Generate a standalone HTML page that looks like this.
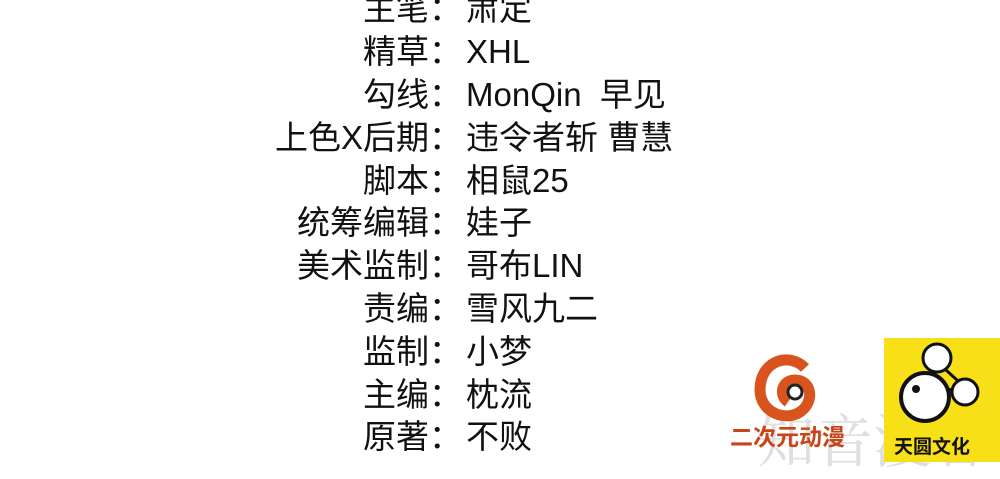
<!DOCTYPE html>
<html><head><meta charset="utf-8"><style>
body{margin:0;width:1000px;height:469px;background:#fff;overflow:hidden;position:relative;font-family:"Liberation Sans","Noto Sans CJK SC",sans-serif;}
.r{position:absolute;left:0;width:1000px;height:43px;font-size:33px;line-height:43px;color:#111;}
.l{position:absolute;right:538px;white-space:nowrap;}
.v{position:absolute;left:466px;white-space:nowrap;}
</style></head><body>
<div style="position:absolute;left:757px;top:395px;font-size:58px;color:rgba(150,150,150,0.3);white-space:nowrap;font-family:'Noto Serif CJK SC',serif;">知音漫客</div>
<div class="r" style="top:-13px"><span class="l">主笔：</span><span class="v">肃定</span></div>
<div class="r" style="top:30px"><span class="l">精草：</span><span class="v">XHL</span></div>
<div class="r" style="top:73px"><span class="l">勾线：</span><span class="v">MonQin&nbsp; 早见</span></div>
<div class="r" style="top:116px"><span class="l">上色X后期：</span><span class="v">违令者斩 曹慧</span></div>
<div class="r" style="top:159px"><span class="l">脚本：</span><span class="v">相鼠25</span></div>
<div class="r" style="top:201px"><span class="l">统筹编辑：</span><span class="v">娃子</span></div>
<div class="r" style="top:244px"><span class="l">美术监制：</span><span class="v">哥布LIN</span></div>
<div class="r" style="top:287px"><span class="l">责编：</span><span class="v">雪风九二</span></div>
<div class="r" style="top:330px"><span class="l">监制：</span><span class="v">小梦</span></div>
<div class="r" style="top:373px"><span class="l">主编：</span><span class="v">枕流</span></div>
<div class="r" style="top:415px"><span class="l">原著：</span><span class="v">不败</span></div>

<svg style="position:absolute;left:0;top:0" width="1000" height="469">
<path d="M805 368 C790 352 760 360 760 390 C760 412 785 422 800 412 C815 402 812 380 795 380 C782 380 778 395 788 402" fill="none" stroke="#d9531e" stroke-width="11"/>
<circle cx="795" cy="392" r="7" fill="#fff" stroke="#222" stroke-width="3"/>
<rect x="884" y="338" width="116" height="124" fill="#f7e018"/>
<circle cx="937" cy="358" r="14" fill="#fff" stroke="#111" stroke-width="3"/>
<circle cx="965" cy="392" r="13" fill="#fff" stroke="#111" stroke-width="3"/>
<line x1="946" y1="370" x2="958" y2="381" stroke="#111" stroke-width="3"/>
<line x1="942" y1="388" x2="952" y2="390" stroke="#111" stroke-width="3"/>
<circle cx="925" cy="397" r="24" fill="#fff" stroke="#111" stroke-width="4"/>
<circle cx="916" cy="389" r="4" fill="#111"/>
</svg>
<div style="position:absolute;left:730px;top:418px;font-size:23px;font-weight:bold;color:#c8451a;white-space:nowrap;">二次元动漫</div>
<div style="position:absolute;left:894px;top:432px;font-size:19px;font-weight:bold;color:#111;white-space:nowrap;">天圆文化</div>
</body></html>
